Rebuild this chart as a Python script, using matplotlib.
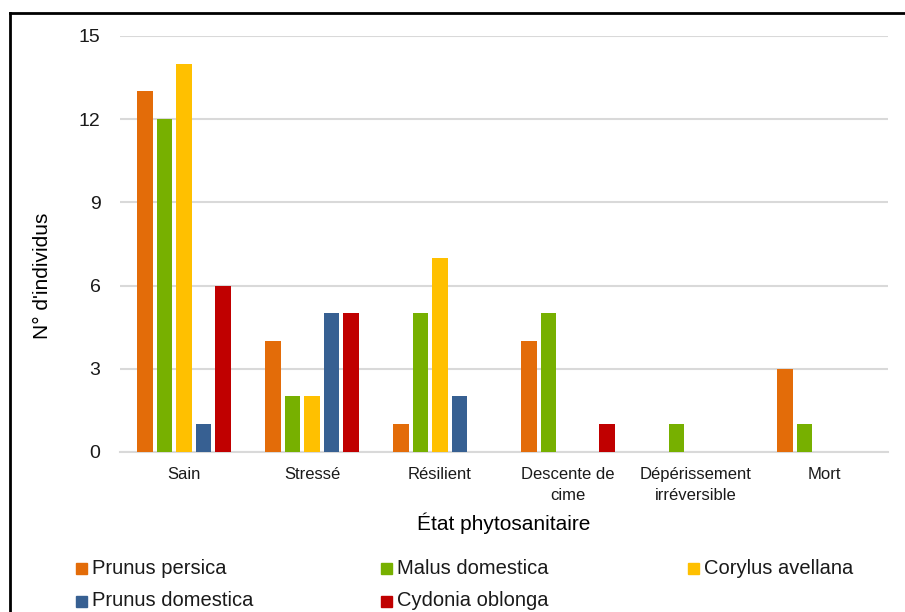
import matplotlib.pyplot as plt
import numpy as np
from matplotlib.lines import Line2D
from matplotlib.patches import Rectangle

plt.rcParams['font.family'] = ['Liberation Sans', 'DejaVu Sans']

# Number of trees per health state and species
etats = ["Sain", "Stressé", "Résilient", "Descente de\ncime",
         "Dépérissement\nirréversible", "Mort"]
especes = ["Prunus persica", "Malus domestica", "Corylus avellana",
           "Prunus domestica", "Cydonia oblonga"]
prunus_persica = [13, 4, 1, 4, 0, 3]
malus_domestica = [12, 2, 5, 5, 1, 1]
corylus_avellana = [14, 2, 7, 0, 0, 0]
prunus_domestica = [1, 5, 2, 0, 0, 0]
cydonia_oblonga = [6, 5, 0, 1, 0, 0]
yticks = [0, 3, 6, 9, 12, 15]

series = [prunus_persica, malus_domestica, corylus_avellana,
          prunus_domestica, cydonia_oblonga]
couleurs = ["#E36C09", "#77B000", "#FFC000", "#376092", "#C00000"]

fig = plt.figure(figsize=(9.05, 6.12), dpi=100)
ax = fig.add_axes([0.1326, 0.2615, 0.8486, 0.6797])

x = np.arange(len(etats))
step = 0.152
width = 0.121
for i, (vals, col) in enumerate(zip(series, couleurs)):
    ax.bar(x + (i - 2) * step, vals, width=width, color=col,
           edgecolor="none", zorder=3)

ax.set_xlim(-0.5, len(etats) - 0.5)
ax.set_ylim(0, 15)
ax.set_yticks(yticks)
ax.set_yticklabels([str(v) for v in yticks], fontsize=14)
ax.set_xticks(x)
ax.set_xticklabels(etats, fontsize=12, linespacing=1.45)
ax.tick_params(axis="both", length=0, colors="#1a1a1a")
ax.tick_params(axis="y", pad=14)
ax.tick_params(axis="x", pad=11)
ax.grid(axis="y", color="#d9d9d9", linewidth=1.5, zorder=0)
for s in ["top", "right", "left"]:
    ax.spines[s].set_visible(False)
ax.spines["bottom"].set_color("#d9d9d9")
ax.spines["bottom"].set_linewidth(1.5)

ax.set_xlabel("État phytosanitaire", fontsize=15, labelpad=7)
ax.set_ylabel("N° d'individus", fontsize=15, labelpad=18)
ax.yaxis.set_label_coords(-0.0885, 0.423)

# legend entries laid out row by row
pos = [(76, 568), (381, 568), (688, 568), (76, 601), (381, 601)]
W, H = 905, 612
for (px, py), nom, col in zip(pos, especes, couleurs):
    fig.add_artist(Rectangle((px / W, (H - py - 5.5) / H), 11 / W, 11 / H,
                             transform=fig.transFigure, color=col))
    fig.text((px + 16) / W, (H - py) / H, nom, fontsize=14.5,
             va="center", ha="left", color="#1a1a1a")

# outer frame (top and left edges)
fig.add_artist(Line2D([10 / W, 1.0], [1 - 13 / H, 1 - 13 / H],
                      transform=fig.transFigure, color="black", linewidth=2))
fig.add_artist(Line2D([10 / W, 10 / W], [0, 1 - 13 / H],
                      transform=fig.transFigure, color="black", linewidth=2))

fig.savefig("out.png", dpi=100)
